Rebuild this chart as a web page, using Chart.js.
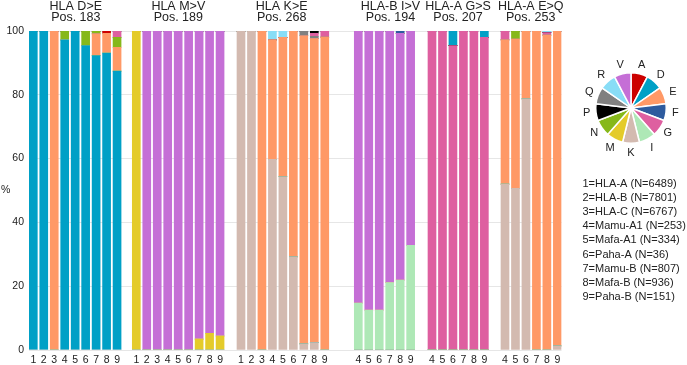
<!DOCTYPE html>
<html><head><meta charset="utf-8">
<script src="https://cdn.jsdelivr.net/npm/chart.js@4"></script>
<style>
html,body{margin:0;padding:0;background:#fff;overflow:hidden;}
#wrap{position:relative;width:687px;height:365px;}
#main{position:absolute;left:0;top:0;}
#pie{position:absolute;left:575px;top:52px;}
</style></head><body>
<div id="wrap">
<canvas id="main" width="687" height="365"></canvas>
<canvas id="pie" width="112" height="112"></canvas>
</div>
<script>
// ---------- DATA ----------
const panelTitles = [
  ["HLA D>E", "Pos. 183"],
  ["HLA M>V", "Pos. 189"],
  ["HLA K>E", "Pos. 268"],
  ["HLA-B I>V", "Pos. 194"],
  ["HLA-A G>S", "Pos. 207"],
  ["HLA-A E>Q", "Pos. 253"]
];
const panelCategories = [
  ["1","2","3","4","5","6","7","8","9"],
  ["1","2","3","4","5","6","7","8","9"],
  ["1","2","3","4","5","6","7","8","9"],
  ["4","5","6","7","8","9"],
  ["4","5","6","7","8","9"],
  ["4","5","6","7","8","9"]
];
const yTickValues = [0, 20, 40, 60, 80, 100];
const speciesLegend = [
  "1=HLA-A (N=6489)", "2=HLA-B (N=7801)", "3=HLA-C (N=6767)",
  "4=Mamu-A1 (N=253)", "5=Mafa-A1 (N=334)", "6=Paha-A (N=36)",
  "7=Mamu-B (N=807)", "8=Mafa-B (N=936)", "9=Paha-B (N=151)"
];
const residueLabels = ["A","D","E","F","G","I","K","M","N","P","Q","R","V"];
const residueShares = [1,1,1,1,1,1,1,1,1,1,1,1,1];

// Percent per bar, 45 bars: panel1(1-9) | panel2(1-9) | panel3(1-9) | panel4(4-9) | panel5(4-9) | panel6(4-9)
const K = [0,0,0,0,0,0,0,0,0,  0,0,0,0,0,0,0,0,0,  100,100,0,59.8,54.3,29.2,1.9,2.3,0,  0,0,0,0,0,0,  0,0,0,0,0,0,  52.0,50.7,78.7,0,0,1.3];
const D = [100,100,0,97.2,100,95.4,92.3,93.1,87.4,  0,0,0,0,0,0,0,0,0,  0,0,0,0,0,0,0,0,0,  0,0,0,0,0,0,  0,0,0,0,0,0,  0,0,0,0,0,0];
const M = [0,0,0,0,0,0,0,0,0,  100,0,0,0,0,0,3.4,5.2,4.4,  0,0,0,0,0,0,0,0,0,  0,0,0,0,0,0,  0,0,0,0,0,0,  0,0,0,0,0,0];
const I = [0,0,0,0,0,0,0,0,0,  0,0,0,0,0,0,0,0,0,  0,0,0,0,0,0,0,0,0,  14.7,12.5,12.5,21.1,21.9,32.8,  0,0,0,0,0,0,  0,0,0,0,0,0];
const E = [0,0,100,0,0,0,6.8,6.2,7.5,  0,0,0,0,0,0,0,0,0,  0,0,100,37.4,43.7,70.8,96.6,95.3,98.1,  0,0,0,0,0,0,  0,0,0,0,0,0,  45.2,46.8,21.3,100,98.7,98.7];
const V = [0,0,0,0,0,0,0,0,0,  0,100,100,100,100,100,96.6,94.8,95.6,  0,0,0,0,0,0,0,0,0,  85.3,87.5,87.5,78.9,77.4,67.2,  0,0,0,0,0,0,  0,0,0,0,0,0];
const N = [0,0,0,2.8,0,4.6,0.9,0,3.1,  0,0,0,0,0,0,0,0,0,  0,0,0,0,0,0,0,0,0,  0,0,0,0,0,0,  0,0,0,0,0,0,  0,2.5,0,0,0,0];
const Q = [0,0,0,0,0,0,0,0,0,  0,0,0,0,0,0,0,0,0,  0,0,0,0,0,0,1.5,0.7,0,  0,0,0,0,0,0,  0,0,0,0,0,0,  0,0,0,0,0,0];
const G = [0,0,0,0,0,0,0,0,2.0,  0,0,0,0,0,0,0,0,0,  0,0,0,0,0,0,0,1.0,1.9,  0,0,0,0,0,0,  100,100,95.4,100,100,98.0,  2.8,0,0,0,0.8,0];
const P = [0,0,0,0,0,0,0,0,0,  0,0,0,0,0,0,0,0,0,  0,0,0,0,0,0,0,0.7,0,  0,0,0,0,0,0,  0,0,0,0,0,0,  0,0,0,0,0,0];
const A = [0,0,0,0,0,0,0,0.7,0,  0,0,0,0,0,0,0,0,0,  0,0,0,0,0,0,0,0,0,  0,0,0,0,0,0,  0,0,0,0,0,0,  0,0,0,0,0,0];
const F = [0,0,0,0,0,0,0,0,0,  0,0,0,0,0,0,0,0,0,  0,0,0,0,0,0,0,0,0,  0,0,0,0,0.7,0,  0,0,0,0,0,0,  0,0,0,0,0,0];
const R = [0,0,0,0,0,0,0,0,0,  0,0,0,0,0,0,0,0,0,  0,0,0,2.8,2.0,0,0,0,0,  0,0,0,0,0,0,  0,0,0,0,0,0,  0,0,0,0,0.5,0];
const Dminor = [0,0,0,0,0,0,0,0,0,  0,0,0,0,0,0,0,0,0,  0,0,0,0,0,0,0,0,0,  0,0,0,0,0,0,  0,0,4.6,0,0,2.0,  0,0,0,0,0,0];

// ---------- STYLE / LAYOUT ----------
const colors = {
  A:"#CC0000", D:"#00A0C6", E:"#FF9966", F:"#2E5B9E", G:"#DE5FA0", I:"#AEE8B6",
  K:"#D3BAB0", M:"#E4CB2A", N:"#86B81A", P:"#000000", Q:"#808080", R:"#88DDF6", V:"#C56FD6"
};
const panelFirstPx = [33.3, 136.3, 241, 358.3, 432, 505];
const barStep = 10.47;
const titleX = [75.8, 178.3, 281.7, 390.5, 458, 530.7];
const FONT = "'Liberation Sans', Arial, sans-serif";
const TXT = "#222";

const xs = [], tickLabels = [];
panelCategories.forEach((cats, p) => cats.forEach((c, j) => { xs.push(panelFirstPx[p] + j * barStep); tickLabels.push(c); }));

const seriesDefs = [
  ["K", K, "K"], ["D", D, "D"], ["M", M, "M"], ["I", I, "I"], ["E", E, "E"], ["V", V, "V"],
  ["N", N, "N"], ["Q", Q, "Q"], ["G", G, "G"], ["P", P, "P"], ["A", A, "A"], ["F", F, "F"],
  ["R", R, "R"], ["D (minor)", Dminor, "D"]
];
const datasets = seriesDefs.map(([name, arr, col]) => ({
  label: name,
  data: arr.map((v, i) => ({ x: xs[i], y: v })),
  backgroundColor: colors[col],
  borderWidth: 0,
  barThickness: 8
}));

const annot = {
  id: "annot",
  afterDraw(chart) {
    const ctx = chart.ctx;
    ctx.save();
    ctx.fillStyle = TXT;
    ctx.textAlign = "center";
    ctx.textBaseline = "alphabetic";
    ctx.font = "12.5px " + FONT;
    panelTitles.forEach((t, p) => {
      ctx.fillText(t[0], titleX[p], 9.5);
      ctx.fillText(t[1], titleX[p], 21);
    });
    ctx.textAlign = "left";
    ctx.textBaseline = "middle";
    ctx.font = "11px " + FONT;
    speciesLegend.forEach((s, i) => ctx.fillText(s, 582.5, 184 + i * 14.1));
    ctx.font = "10.5px " + FONT;
    ctx.fillText("%", 1, 190);
    ctx.restore();
  }
};

new Chart(document.getElementById("main"), {
  type: "bar",
  data: { datasets },
  options: {
    responsive: false,
    animation: false,
    layout: { padding: { top: 31, right: 125.5, bottom: 0, left: 0 } },
    plugins: { legend: { display: false }, tooltip: { enabled: false } },
    scales: {
      x: {
        type: "linear", min: 29, max: 561.5, bounds: "data", offset: false, stacked: true,
        grid: { display: false, offset: false, drawTicks: false }, border: { display: false },
        afterBuildTicks: s => { s.ticks = xs.map(v => ({ value: v })); },
        afterFit: s => { s.height = 15; },
        ticks: {
          autoSkip: false, maxRotation: 0, minRotation: 0, padding: 4, color: TXT,
          font: { family: FONT, size: 10.5 },
          callback: (v, i) => tickLabels[i]
        }
      },
      y: {
        min: 0, max: 100, stacked: true,
        grid: { color: "#e6e6e6", drawTicks: false, lineWidth: 1 }, border: { display: false },
        afterBuildTicks: s => { s.ticks = yTickValues.map(v => ({ value: v })); },
        afterFit: s => { s.width = 29; },
        ticks: { padding: 5, color: TXT, font: { family: FONT, size: 10.5 } }
      }
    }
  },
  plugins: [annot]
});

const pieLabels = {
  id: "pieLabels",
  afterDraw(chart) {
    const ctx = chart.ctx;
    const meta = chart.getDatasetMeta(0);
    ctx.save();
    ctx.fillStyle = TXT;
    ctx.font = "11px " + FONT;
    ctx.textAlign = "center";
    ctx.textBaseline = "middle";
    meta.data.forEach((arc, i) => {
      const { x, y, startAngle, endAngle, outerRadius } = arc.getProps(["x", "y", "startAngle", "endAngle", "outerRadius"], true);
      const mid = (startAngle + endAngle) / 2;
      const r = outerRadius + 9.5;
      ctx.fillText(residueLabels[i], x + Math.cos(mid) * r, y + Math.sin(mid) * r);
    });
    ctx.restore();
  }
};

new Chart(document.getElementById("pie"), {
  type: "pie",
  data: {
    labels: residueLabels,
    datasets: [{
      data: residueShares,
      backgroundColor: residueLabels.map(r => colors[r]),
      borderColor: "#ffffff",
      borderWidth: 1.5
    }]
  },
  options: {
    responsive: false,
    animation: false,
    layout: { padding: 20 },
    plugins: { legend: { display: false }, tooltip: { enabled: false } }
  },
  plugins: [pieLabels]
});
</script>
</body></html>
